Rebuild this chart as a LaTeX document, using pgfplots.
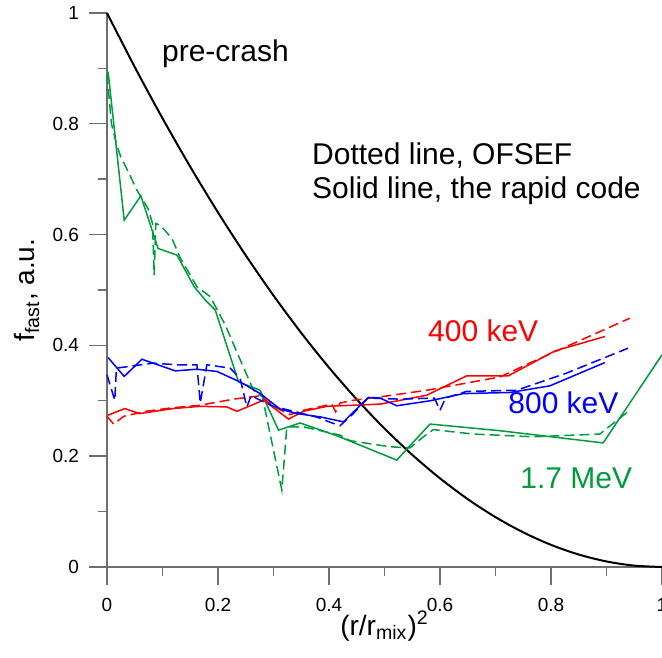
\documentclass[border=0pt]{standalone}
\usepackage{pgfplots}
\pgfplotsset{compat=1.18}
\usetikzlibrary{calc}
\usepackage{fontspec}
\setmainfont{Liberation Sans}
\definecolor{axgray}{HTML}{6E6E6E}
\definecolor{fgreen}{RGB}{0,155,60}
\begin{document}
\begin{tikzpicture}
\begin{axis}[
  scale only axis, width=277.5pt, height=277pt,
  xmin=0, xmax=1, ymin=0, ymax=1,
  axis x line=bottom, axis y line=left,
  axis line style={axgray, line width=0.7pt, -},
  xtick={0,0.2,0.4,0.6,0.8,1}, ytick={0,0.2,0.4,0.6,0.8,1},
  minor x tick num=1, minor y tick num=1,
  tick align=outside, tick style={axgray, line width=0.7pt},
  major tick length=9pt, minor tick length=4.5pt,
  /pgf/number format/assume math mode=true,
  tick label style={font=\fontsize{9.5}{11}\selectfont},
  xticklabel style={yshift=-3pt},
  yticklabel style={xshift=-1.5pt},
  xlabel={(r/r\textsubscript{mix})\textsuperscript{2}},
  ylabel={f\textsubscript{fast}, a.u.},
  label style={font=\fontsize{14}{16}\selectfont},
  xlabel style={at={(axis description cs:0.5,-0.123)}, anchor=base},
  ylabel style={at={(axis description cs:-0.13,0.5)}, anchor=base},
  clip=false,
  every axis plot/.append style={line width=0.75pt},
  ofsef/.style={dash pattern=on 5pt off 2.5pt},
]
% pre-crash
\addplot[black, line width=1pt, smooth] coordinates {
(0,1)(0.05,0.9025)(0.1,0.81)(0.15,0.7225)(0.2,0.64)(0.25,0.5625)(0.3,0.49)
(0.35,0.4225)(0.4,0.36)(0.45,0.3025)(0.5,0.25)(0.55,0.2025)(0.6,0.16)
(0.65,0.1225)(0.7,0.09)(0.75,0.0625)(0.8,0.04)(0.85,0.0225)(0.9,0.01)
(0.95,0.0025)(1,0)};
% 1.7 MeV, rapid code
\addplot[fgreen] coordinates {
(0.002,0.894)(0.031,0.626)(0.061,0.670)(0.092,0.575)(0.126,0.563)(0.157,0.506)
(0.177,0.482)(0.195,0.464)(0.237,0.334)(0.276,0.319)(0.309,0.247)(0.348,0.260)
(0.414,0.237)(0.522,0.193)(0.582,0.258)(0.708,0.246)(0.894,0.224)(1.0,0.383)};
% 1.7 MeV, OFSEF
\addplot[fgreen, ofsef] coordinates {
(0.0,0.89)(0.008,0.80)(0.018,0.76)(0.025,0.74)(0.038,0.714)(0.054,0.680)
(0.074,0.647)(0.082,0.62)(0.085,0.527)(0.088,0.62)(0.096,0.617)(0.117,0.593)
(0.132,0.558)(0.162,0.506)(0.186,0.488)(0.213,0.437)(0.240,0.374)(0.264,0.319)
(0.28,0.307)(0.315,0.139)(0.324,0.253)(0.354,0.253)(0.42,0.238)(0.438,0.228)
(0.51,0.217)(0.546,0.215)(0.570,0.235)(0.588,0.248)(0.66,0.24)(0.768,0.235)
(0.888,0.24)(0.942,0.283)};
% 400 keV, rapid code
\addplot[red] coordinates {
(0.002,0.274)(0.032,0.286)(0.059,0.277)(0.119,0.286)(0.168,0.290)(0.216,0.289)
(0.234,0.281)(0.282,0.301)(0.306,0.283)(0.327,0.267)(0.354,0.281)(0.396,0.290)
(0.492,0.294)(0.576,0.310)(0.648,0.345)(0.723,0.345)(0.807,0.390)(0.897,0.416)};
% 400 keV, OFSEF
\addplot[red, ofsef] coordinates {
(0.0,0.272)(0.012,0.258)(0.03,0.272)(0.07,0.281)(0.114,0.287)(0.168,0.292)
(0.228,0.303)(0.276,0.309)(0.30,0.29)(0.33,0.275)(0.354,0.283)(0.378,0.288)
(0.405,0.294)(0.412,0.28)(0.42,0.296)(0.444,0.301)(0.492,0.307)(0.576,0.319)
(0.708,0.343)(0.768,0.371)(0.828,0.398)(0.942,0.449)};
% 800 keV, rapid code
\addplot[blue] coordinates {
(0.002,0.378)(0.031,0.344)(0.063,0.375)(0.123,0.354)(0.162,0.357)(0.198,0.353)
(0.240,0.334)(0.276,0.313)(0.312,0.285)(0.342,0.277)(0.384,0.271)(0.426,0.262)
(0.471,0.306)(0.492,0.305)(0.522,0.291)(0.582,0.300)(0.642,0.313)(0.726,0.315)
(0.798,0.327)(0.897,0.369)};
% 800 keV, OFSEF
\addplot[blue, ofsef] coordinates {
(0.0,0.347)(0.014,0.301)(0.017,0.359)(0.04,0.362)(0.083,0.368)(0.126,0.365)
(0.162,0.365)(0.168,0.296)(0.18,0.365)(0.222,0.359)(0.24,0.34)(0.252,0.289)
(0.26,0.31)(0.27,0.304)(0.3,0.29)(0.34,0.28)(0.38,0.27)(0.40,0.262)(0.42,0.255)
(0.444,0.277)(0.47,0.305)(0.528,0.303)(0.59,0.305)(0.6,0.283)(0.61,0.305)
(0.648,0.317)(0.738,0.319)(0.828,0.35)(0.939,0.395)};
\node[anchor=base west, font=\fontsize{15}{18}\selectfont, inner sep=0pt] at (axis cs:0.0986,0.912) {pre-crash};
\node[anchor=base west, font=\fontsize{15}{18}\selectfont, inner sep=0pt] at (axis cs:0.369,0.727) {Dotted line, OFSEF};
\node[anchor=base west, font=\fontsize{15}{18}\selectfont, inner sep=0pt] at (axis cs:0.369,0.6655) {Solid line, the rapid code};
\node[anchor=base west, font=\fontsize{15}{18}\selectfont, inner sep=0pt, red] at (axis cs:0.578,0.407) {400 keV};
\node[anchor=base west, font=\fontsize{15}{18}\selectfont, inner sep=0pt, blue] at (axis cs:0.7225,0.277) {800 keV};
\node[anchor=base west, font=\fontsize{15}{18}\selectfont, inner sep=0pt, fgreen] at (axis cs:0.744,0.142) {1.7 MeV};
\coordinate (bl) at (rel axis cs:0,0);
\coordinate (tr) at (rel axis cs:1,1);
\end{axis}
\pgfresetboundingbox
\path ($(bl)+(-53.5pt,-45pt)$) rectangle ($(tr)+(0,6.5pt)$);
\end{tikzpicture}
\end{document}
